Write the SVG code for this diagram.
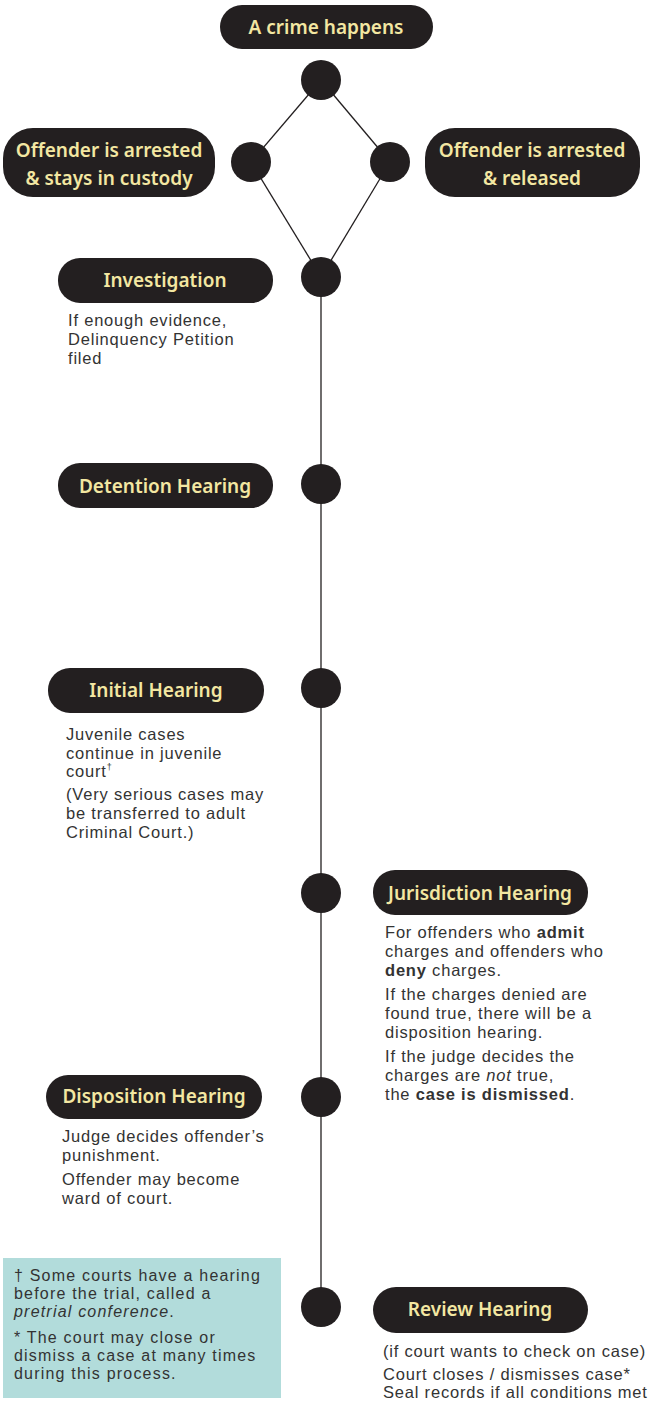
<svg xmlns="http://www.w3.org/2000/svg" width="661" height="1404" viewBox="0 0 661 1404">
<style>
.pill{fill:#231f20}
.pt{font-family:"Noto Sans","Liberation Sans",sans-serif;font-size:19px;font-weight:600;fill:#f3e7a2;text-anchor:middle}
.dot{fill:#231f20}
.bt{font-family:"Liberation Sans",Arial,sans-serif;font-size:16.5px;fill:#333;letter-spacing:0.8px}
.nt{font-size:16px;letter-spacing:1.2px}
.b{font-weight:bold}
.i{font-style:italic}
.ln{stroke:#231f20;stroke-width:1.3;fill:none}
</style>
<rect width="661" height="1404" fill="#fff"/>
<g id="connectors">
<line class="ln" x1="321" y1="277" x2="321" y2="1307"/>
<line class="ln" x1="321" y1="80" x2="251" y2="162"/>
<line class="ln" x1="321" y1="80" x2="390" y2="162"/>
<line class="ln" x1="251" y1="162" x2="321" y2="277"/>
<line class="ln" x1="390" y1="162" x2="321" y2="277"/>
</g>
<g id="crime">
<rect class="pill" x="220" y="5" width="213" height="44" rx="22"/>
<text class="pt" x="326" y="34">A crime happens</text>
<circle class="dot" cx="321" cy="80" r="20"/>
</g>
<g id="custody">
<rect class="pill" x="3" y="128" width="212" height="69" rx="30"/>
<text class="pt" x="109" y="157">Offender is arrested</text>
<text class="pt" x="109" y="185">&amp; stays in custody</text>
<circle class="dot" cx="251" cy="162" r="20"/>
</g>
<g id="released">
<rect class="pill" x="425" y="128" width="215" height="69" rx="30"/>
<text class="pt" x="532" y="157">Offender is arrested</text>
<text class="pt" x="532" y="185">&amp; released</text>
<circle class="dot" cx="390" cy="162" r="20"/>
</g>
<g id="investigation">
<rect class="pill" x="58" y="258" width="215" height="45" rx="22"/>
<text class="pt" x="165" y="287">Investigation</text>
<circle class="dot" cx="321" cy="277" r="20"/>
<text class="bt" x="68" y="326">If enough evidence,</text>
<text class="bt" x="68" y="345">Delinquency Petition</text>
<text class="bt" x="68" y="364">filed</text>
</g>
<g id="detention">
<rect class="pill" x="58" y="463" width="215" height="45" rx="22"/>
<text class="pt" x="165" y="493">Detention Hearing</text>
<circle class="dot" cx="321" cy="484" r="20"/>
</g>
<g id="initial">
<rect class="pill" x="48" y="668" width="216" height="45" rx="22"/>
<text class="pt" x="156" y="697">Initial Hearing</text>
<circle class="dot" cx="321" cy="688" r="20"/>
<text class="bt" x="66" y="740">Juvenile cases</text>
<text class="bt" x="66" y="759">continue in juvenile</text>
<text class="bt" x="66" y="777">court<tspan font-size="9" dy="-7">†</tspan></text>
<text class="bt" x="66" y="800">(Very serious cases may</text>
<text class="bt" x="66" y="819">be transferred to adult</text>
<text class="bt" x="66" y="838">Criminal Court.)</text>
</g>
<g id="jurisdiction">
<rect class="pill" x="373" y="870" width="215" height="45" rx="22"/>
<text class="pt" x="480" y="900">Jurisdiction Hearing</text>
<circle class="dot" cx="321" cy="893" r="20"/>
<text class="bt" x="385" y="938">For offenders  who <tspan class="b">admit</tspan></text>
<text class="bt" x="385" y="957">charges and offenders who</text>
<text class="bt" x="385" y="976"><tspan class="b">deny</tspan> charges.</text>
<text class="bt" x="385" y="1000">If the charges denied are</text>
<text class="bt" x="385" y="1019">found true, there will be a</text>
<text class="bt" x="385" y="1038">disposition hearing.</text>
<text class="bt" x="385" y="1062">If the judge decides the</text>
<text class="bt" x="385" y="1081">charges are <tspan class="i">not</tspan> true,</text>
<text class="bt" x="385" y="1100">the <tspan class="b">case is dismissed</tspan>.</text>
</g>
<g id="disposition">
<rect class="pill" x="46" y="1075" width="216" height="44" rx="22"/>
<text class="pt" x="154" y="1103">Disposition Hearing</text>
<circle class="dot" cx="321" cy="1097" r="20"/>
<text class="bt" x="62" y="1142">Judge decides offender’s</text>
<text class="bt" x="62" y="1161">punishment.</text>
<text class="bt" x="62" y="1185">Offender may become</text>
<text class="bt" x="62" y="1204">ward of court.</text>
</g>
<g id="review">
<rect class="pill" x="373" y="1287" width="215" height="46" rx="23"/>
<text class="pt" x="480" y="1316">Review Hearing</text>
<circle class="dot" cx="321" cy="1307" r="20"/>
<text class="bt" x="383" y="1357">(if court wants to check on case)</text>
<text class="bt" x="383" y="1380">Court closes / dismisses case*</text>
<text class="bt" x="383" y="1398">Seal records if all conditions met</text>
</g>
<g id="note">
<rect x="3" y="1258" width="278" height="140" fill="#b2dcdb"/>
<text class="bt nt" x="14" y="1281">† Some courts have a hearing</text>
<text class="bt nt" x="14" y="1299">before the trial, called a</text>
<text class="bt nt" x="14" y="1317"><tspan class="i">pretrial conference</tspan>.</text>
<text class="bt nt" x="14" y="1343">* The court may close or</text>
<text class="bt nt" x="14" y="1361">dismiss a case at many times</text>
<text class="bt nt" x="14" y="1379">during this process.</text>
</g>
</svg>
